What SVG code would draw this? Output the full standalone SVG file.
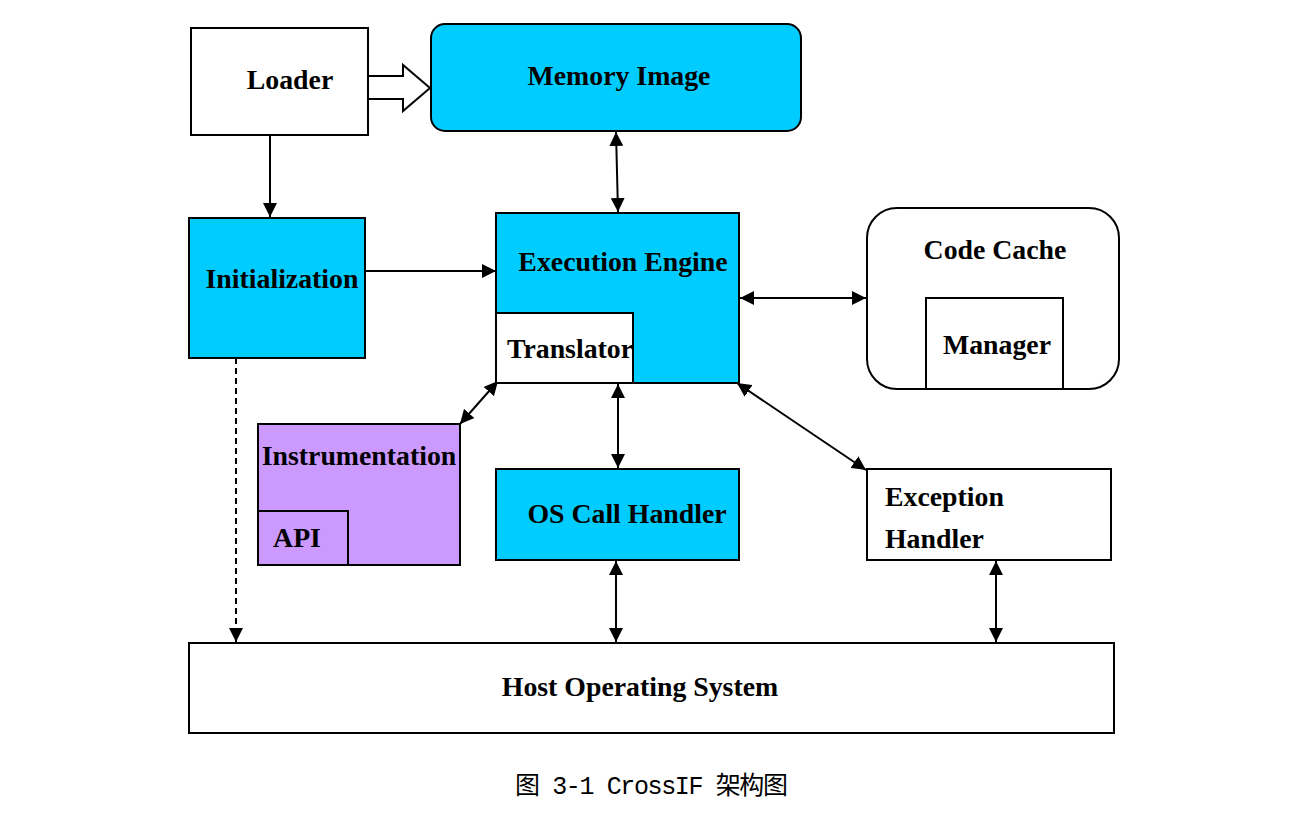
<svg xmlns="http://www.w3.org/2000/svg" width="1308" height="822" viewBox="0 0 1308 822">
<defs>
<marker id="ah" markerUnits="userSpaceOnUse" markerWidth="14" markerHeight="14" viewBox="0 0 14 14" refX="14" refY="7" orient="auto-start-reverse">
<path d="M0,0 L14,7 L0,14 z" fill="#000"/>
</marker>
<style>
.box{stroke:#000;stroke-width:2}
.w{fill:#fff}
.c{fill:#00CCFF}
.p{fill:#CC99FF}
.t{font-family:"Liberation Serif","Times New Roman",serif;font-weight:bold;font-size:27.8px;fill:#000}
.m{text-anchor:middle}
.ln{stroke:#000;stroke-width:2;fill:none}
.a2{marker-start:url(#ah);marker-end:url(#ah)}
.a1{marker-end:url(#ah)}
</style>
</defs>
<rect width="1308" height="822" fill="#fff"/>
<g id="connectors">
<path class="ln" d="M368,76 H403 V65 L430,88 L403,111 V99 H368" fill="#fff"/>
<line class="ln a1" x1="270" y1="135" x2="270" y2="217"/>
<line class="ln a1" x1="365" y1="271" x2="496" y2="271"/>
<line class="ln a2" x1="616" y1="132" x2="618" y2="212"/>
<line class="ln a2" x1="740" y1="298" x2="866" y2="298"/>
<line class="ln a2" x1="498" y1="381" x2="460" y2="424"/>
<line class="ln a2" x1="618" y1="384" x2="618" y2="468"/>
<line class="ln a2" x1="737" y1="383" x2="866" y2="470"/>
<line class="ln a2" x1="616" y1="561" x2="616" y2="642"/>
<line class="ln a2" x1="996" y1="561" x2="996" y2="642"/>
<line class="ln a1" x1="236" y1="358" x2="236" y2="642" stroke-dasharray="6,4"/>
</g>
<g id="loader">
<rect class="box w" x="191" y="28" width="177" height="107"/>
<text class="t m" x="290" y="89">Loader</text>
</g>
<g id="memory-image">
<rect class="box c" x="431" y="24" width="370" height="107" rx="14"/>
<text class="t m" x="619" y="85">Memory Image</text>
</g>
<g id="initialization">
<rect class="box c" x="189" y="218" width="176" height="140"/>
<text class="t m" x="282" y="288">Initialization</text>
</g>
<g id="execution-engine">
<rect class="box c" x="496" y="213" width="243" height="170"/>
<text class="t m" x="623" y="271">Execution Engine</text>
</g>
<g id="translator">
<rect class="box w" x="496" y="313" width="137" height="70"/>
<text class="t m" x="570" y="358">Translator</text>
</g>
<g id="code-cache">
<rect class="box w" x="867" y="208" width="252" height="181" rx="30"/>
<text class="t m" x="995" y="259">Code Cache</text>
</g>
<g id="manager">
<rect class="box w" x="926" y="298" width="137" height="91"/>
<text class="t m" x="997" y="354">Manager</text>
</g>
<g id="instrumentation">
<rect class="box p" x="258" y="424" width="202" height="141"/>
<text class="t m" x="359" y="465">Instrumentation</text>
</g>
<g id="api">
<rect class="box p" x="258" y="511" width="90" height="54"/>
<text class="t m" x="297" y="547">API</text>
</g>
<g id="os-call-handler">
<rect class="box c" x="496" y="469" width="243" height="91"/>
<text class="t m" x="627" y="523">OS Call Handler</text>
</g>
<g id="exception-handler">
<rect class="box w" x="867" y="469" width="244" height="91"/>
<text class="t" x="885" y="506">Exception</text>
<text class="t" x="885" y="548">Handler</text>
</g>
<g id="host-os">
<rect class="box w" x="189" y="643" width="925" height="90"/>
<text class="t m" x="640" y="696">Host Operating System</text>
</g>
<text x="515" y="794" font-family="'Liberation Mono','Noto Sans CJK SC',monospace" font-size="25" textLength="273" lengthAdjust="spacing">图 3-1 CrossIF 架构图</text>
</svg>
